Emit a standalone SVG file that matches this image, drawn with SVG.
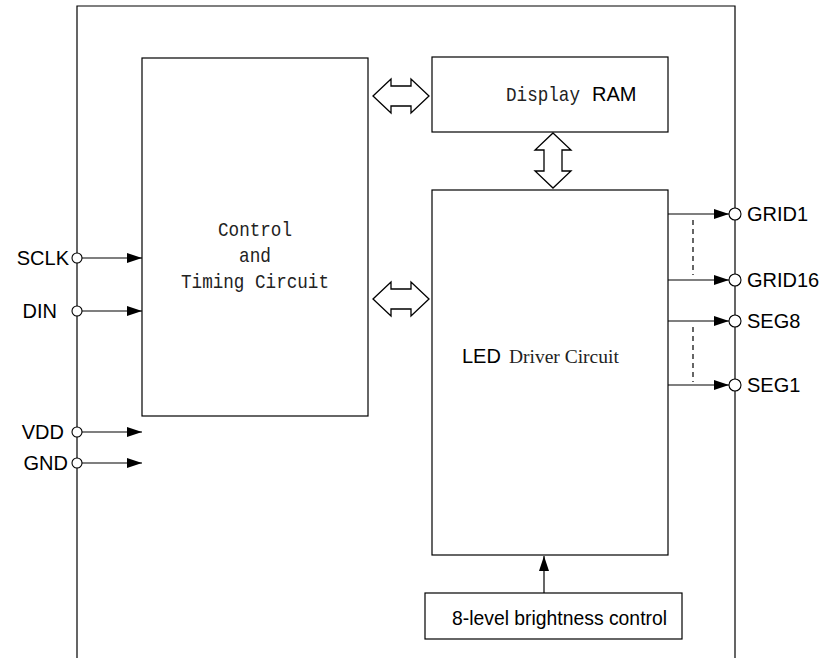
<svg xmlns="http://www.w3.org/2000/svg" width="831" height="658" viewBox="0 0 831 658">
<defs>
<style>
.box{fill:#fff;stroke:#000;stroke-width:1.2}
.ln{fill:none;stroke:#000;stroke-width:1.2}
.dash{fill:none;stroke:#000;stroke-width:1.2;stroke-dasharray:5,4}
.pin{fill:#fff;stroke:#000;stroke-width:1.1}
.dbl{fill:#fff;stroke:#000;stroke-width:1.3;stroke-linejoin:miter}
.sans{font-family:"Liberation Sans",Arial,sans-serif;fill:#000}
.mono{font-family:"Liberation Mono","Courier New",monospace;fill:#222;font-size:21px}
.serif{font-family:"Liberation Serif","Times New Roman",serif;fill:#222}
.lbl{font-family:"Liberation Sans",Arial,sans-serif;font-size:20px;fill:#000}
</style>
<marker id="ah" viewBox="0 0 15 10" refX="15" refY="5" markerWidth="15" markerHeight="10" markerUnits="userSpaceOnUse" orient="auto">
<path d="M0,0 L15,5 L0,10 Z" fill="#000"/>
</marker>
</defs>
<rect width="831" height="658" fill="#fff"/>
<g id="frame">
<path class="ln" d="M77,658 L77,6 L735,6 L735,658"/>
</g>
<g id="control">
<rect class="box" x="142" y="58" width="226" height="358"/>
<text class="mono" x="218" y="236" textLength="74" lengthAdjust="spacingAndGlyphs">Control</text>
<text class="mono" x="239" y="262" textLength="32" lengthAdjust="spacingAndGlyphs">and</text>
<text class="mono" x="181" y="288" textLength="148" lengthAdjust="spacingAndGlyphs">Timing Circuit</text>
</g>
<g id="ram">
<rect class="box" x="432" y="57" width="236" height="75"/>
<text class="mono" x="506" y="101" textLength="74" lengthAdjust="spacingAndGlyphs">Display</text>
<text class="sans" x="592" y="101" font-size="20">RAM</text>
</g>
<g id="led">
<rect class="box" x="432" y="190" width="236" height="365" stroke-width="1.6"/>
<text x="462" y="363"><tspan class="sans" font-size="20">LED</tspan><tspan class="serif" font-size="19.5" dx="8">Driver Circuit</tspan></text>
</g>
<g id="brightness">
<rect class="box" x="425" y="593" width="257" height="46"/>
<text class="sans" x="452" y="625" font-size="20" textLength="215" lengthAdjust="spacingAndGlyphs">8-level brightness control</text>
</g>
<g id="connectors">
<path class="dbl" d="M373,96 L391,79 L391,86 L411,86 L411,79 L429,96 L411,113 L411,106 L391,106 L391,113 Z"/>
<path class="dbl" d="M373,299 L391,282 L391,289 L411,289 L411,282 L429,299 L411,316 L411,309 L391,309 L391,316 Z"/>
<path class="dbl" d="M553,133 L571,150 L562,150 L562,171 L571,171 L553,188 L535,171 L544,171 L544,150 L535,150 Z"/>
<line class="ln" x1="544" y1="593" x2="544" y2="556" marker-end="url(#ah)"/>
<line class="ln" x1="82" y1="258" x2="142" y2="258" marker-end="url(#ah)"/>
<line class="ln" x1="82" y1="311" x2="142" y2="311" marker-end="url(#ah)"/>
<line class="ln" x1="82" y1="432" x2="142" y2="432" marker-end="url(#ah)"/>
<line class="ln" x1="82" y1="463" x2="142" y2="463" marker-end="url(#ah)"/>
<line class="ln" x1="668" y1="214" x2="729" y2="214" marker-end="url(#ah)"/>
<line class="ln" x1="668" y1="280" x2="729" y2="280" marker-end="url(#ah)"/>
<line class="ln" x1="668" y1="321" x2="729" y2="321" marker-end="url(#ah)"/>
<line class="ln" x1="668" y1="385" x2="729" y2="385" marker-end="url(#ah)"/>
<line class="dash" x1="693" y1="220" x2="693" y2="275"/>
<line class="dash" x1="693" y1="327" x2="693" y2="382"/>
</g>
<g id="pins">
<circle class="pin" cx="77" cy="258" r="5"/>
<circle class="pin" cx="77" cy="311" r="5"/>
<circle class="pin" cx="77" cy="432" r="5"/>
<circle class="pin" cx="77" cy="463" r="5"/>
<circle class="pin" cx="735" cy="214" r="6"/>
<circle class="pin" cx="735" cy="280" r="6"/>
<circle class="pin" cx="735" cy="321" r="6"/>
<circle class="pin" cx="735" cy="385" r="6"/>
<text class="lbl" x="69" y="265" text-anchor="end">SCLK</text>
<text class="lbl" x="57" y="318" text-anchor="end">DIN</text>
<text class="lbl" x="64" y="439" text-anchor="end">VDD</text>
<text class="lbl" x="68" y="470" text-anchor="end">GND</text>
<text class="lbl" x="747" y="221">GRID1</text>
<text class="lbl" x="747" y="287">GRID16</text>
<text class="lbl" x="747" y="328">SEG8</text>
<text class="lbl" x="747" y="392">SEG1</text>
</g>
</svg>
